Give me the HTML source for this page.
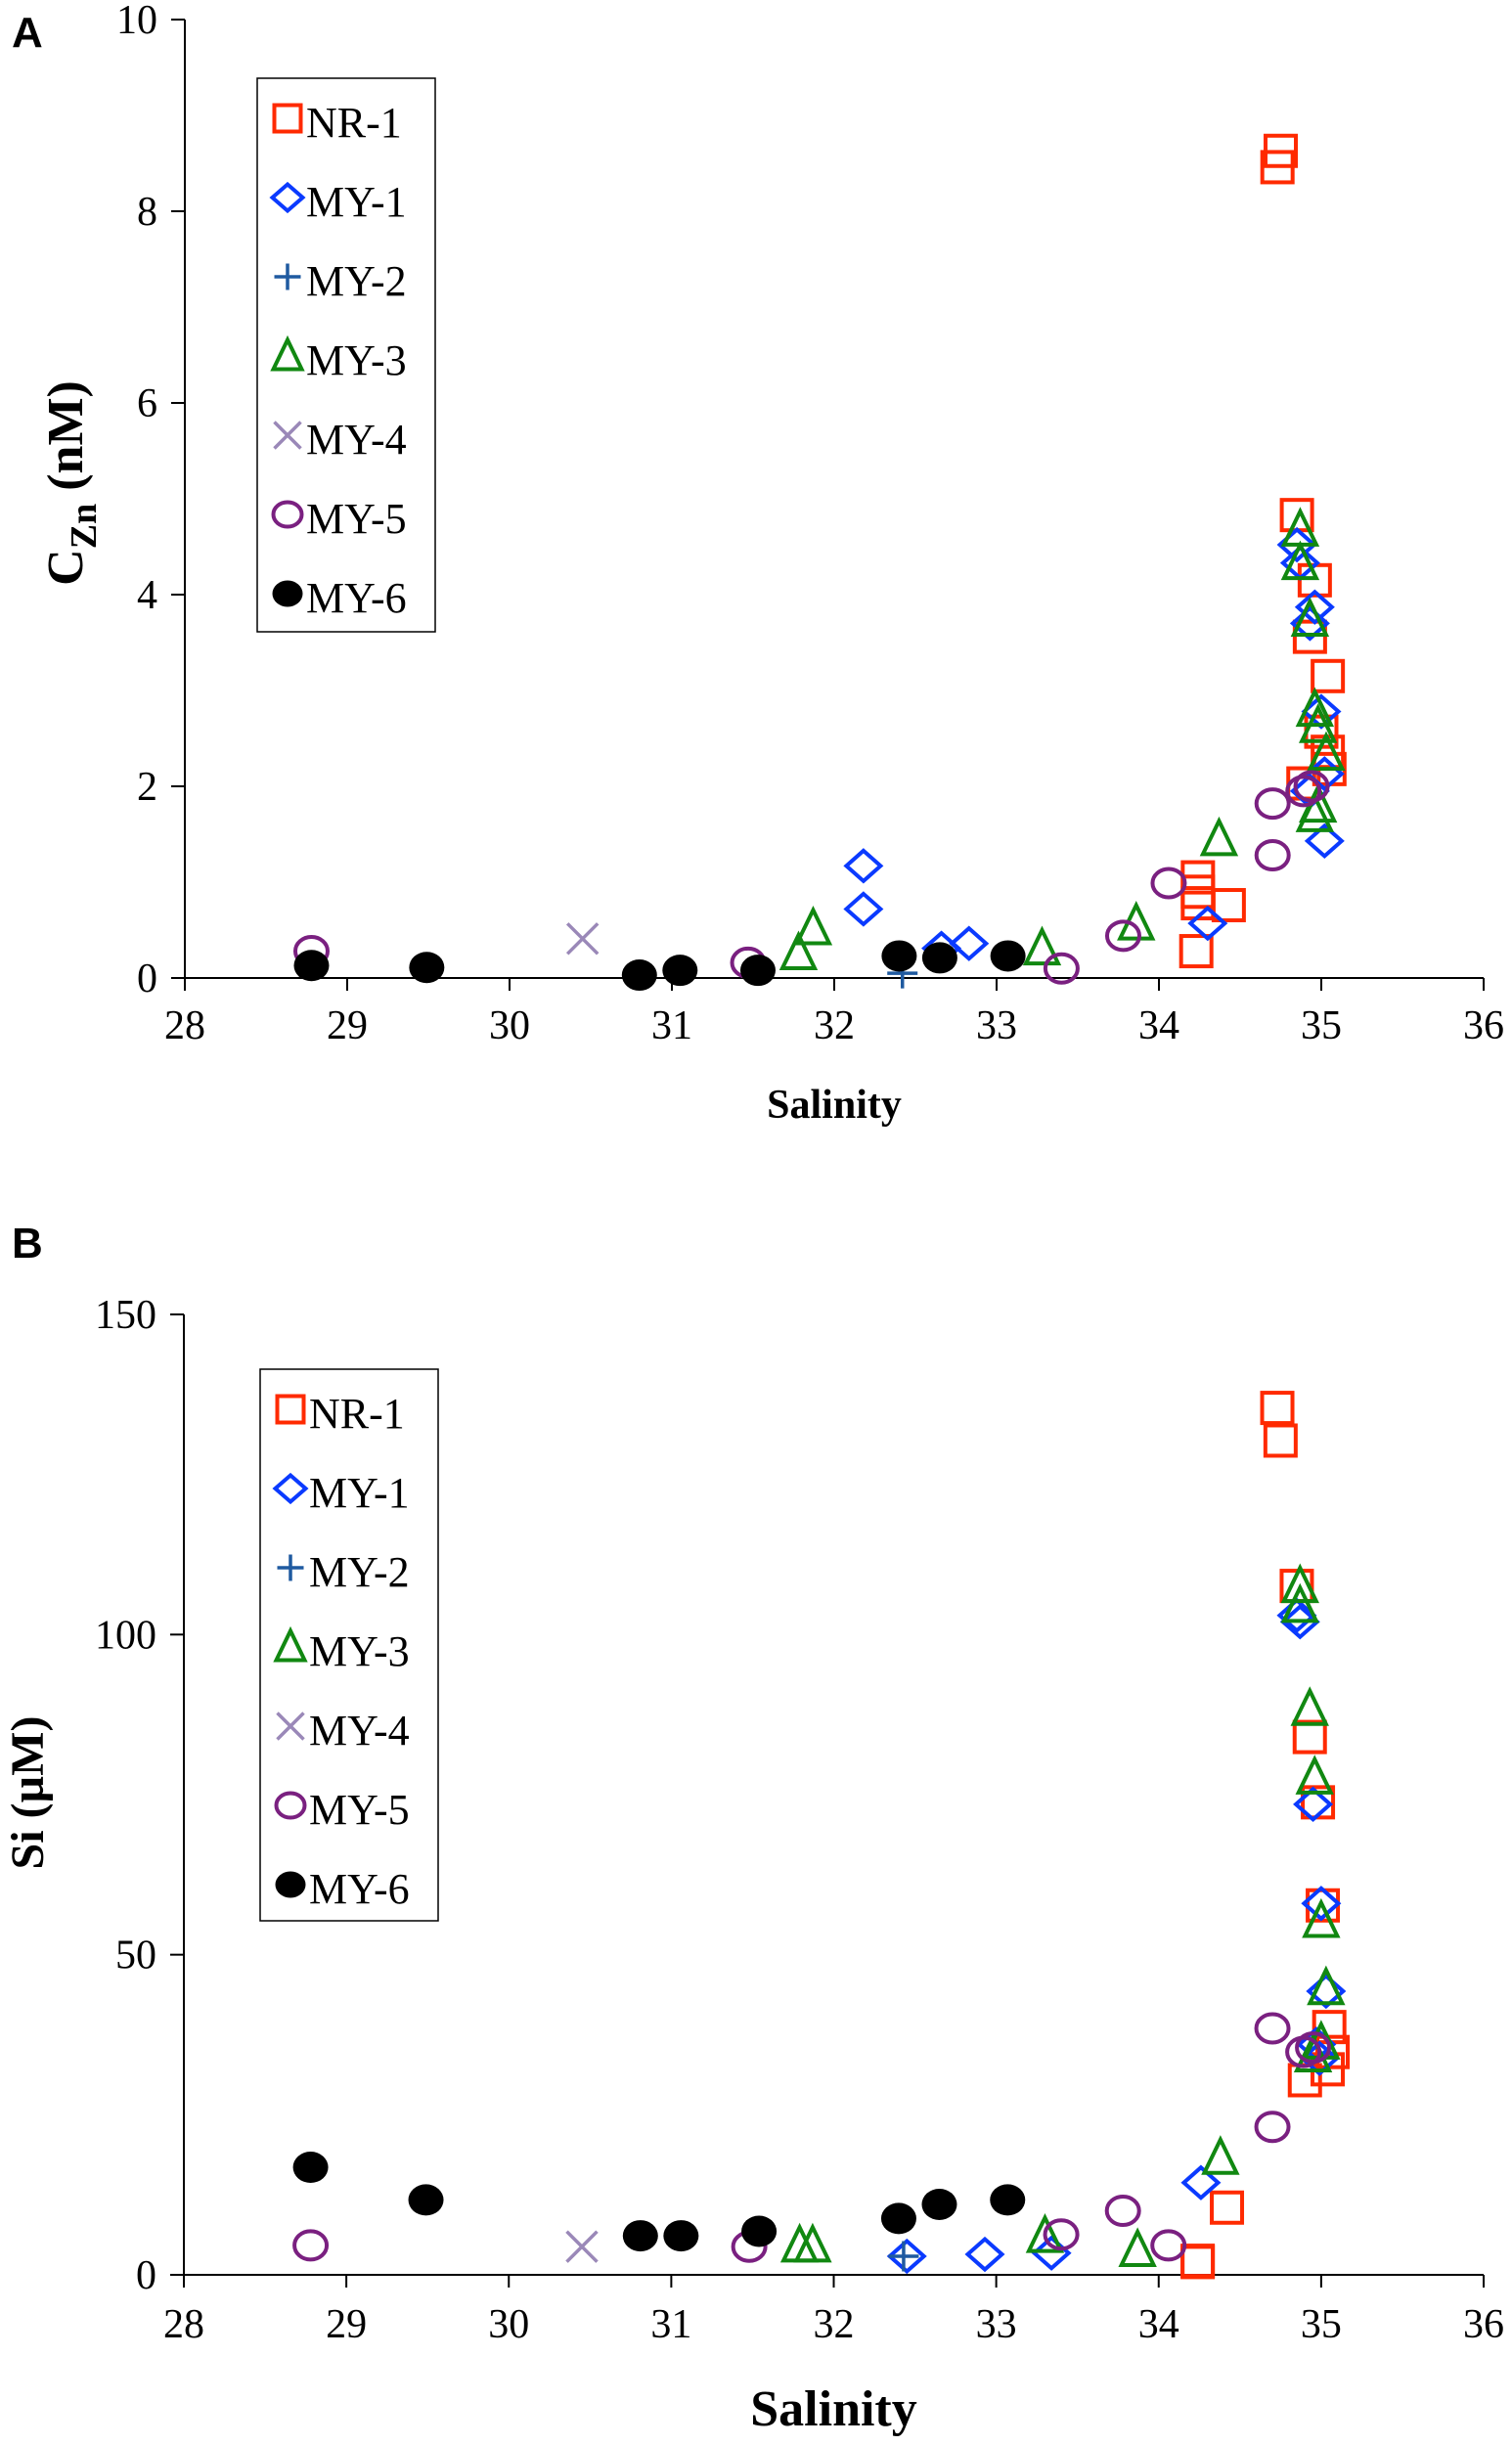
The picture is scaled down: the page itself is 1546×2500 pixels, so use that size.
<!DOCTYPE html>
<html><head><meta charset="utf-8"><style>
html,body{margin:0;padding:0;background:#fff}
svg{display:block}
text{font-family:"Liberation Serif",serif;fill:#000}
</style></head><body>
<svg id="fig" width="1546" height="2500" viewBox="0 0 1546 2500">
<g id="pA"></g>
<g id="pB"></g>
</svg>
<script>
const series = ["NR-1","MY-1","MY-2","MY-3","MY-4","MY-5","MY-6"];
const xTicks = [28,29,30,31,32,33,34,35,36];
const yTicksA = [0,2,4,6,8,10];
const yTicksB = [0,50,100,150];
// Panel A: salinity / Zn (nM)
const salA_NR1 = [34.75,34.73,34.85,34.96,34.93,35.04,35.0,35.04,35.05,34.89,34.24,34.24,34.24,34.43,34.23];
const znA_NR1  = [8.63,8.46,4.83,4.15,3.56,3.15,2.57,2.36,2.18,2.03,1.05,0.9,0.78,0.76,0.28];
const salA_MY1 = [32.18,32.18,32.66,32.83,34.3,34.85,34.87,34.96,34.93,35.0,35.02,34.93,35.02];
const znA_MY1  = [1.17,0.72,0.31,0.36,0.57,4.52,4.33,3.87,3.7,2.78,2.13,1.95,1.43];
const salA_MY2 = [32.42];
const znA_MY2  = [0.05];
const salA_MY3 = [31.78,31.87,33.28,33.86,34.37,34.87,34.87,34.93,34.96,34.98,35.03,34.98,34.96];
const znA_MY3  = [0.26,0.52,0.31,0.57,1.45,4.68,4.33,3.74,2.8,2.63,2.34,1.8,1.7];
const salA_MY4 = [30.45];
const znA_MY4  = [0.41];
const salA_MY5 = [28.78,31.47,33.4,33.78,34.06,34.7,34.7,34.89,34.94];
const znA_MY5  = [0.28,0.16,0.1,0.44,0.99,1.28,1.82,1.95,2.0];
const salA_MY6 = [28.78,29.49,30.8,31.05,31.53,32.4,32.65,33.07];
const znA_MY6  = [0.13,0.11,0.03,0.08,0.08,0.23,0.21,0.23];
// Panel B: salinity / Si (uM)
const salB_NR1 = [34.73,34.75,34.85,34.93,34.98,35.01,35.05,35.07,35.04,34.9,34.42,34.24,34.24];
const siB_NR1  = [135.4,130.3,107.6,84,73.8,57.7,38.7,34.8,32.1,30.4,10.5,2.2,2.0];
const salB_MY1 = [34.26,32.45,32.93,33.34,34.87,34.85,34.95,35.0,35.03,34.97,34.99];
const siB_MY1  = [14.4,2.9,3.2,3.4,102,103,73.5,58,44.3,36,33.8];
const salB_MY2 = [32.43];
const siB_MY2  = [2.9];
const salB_MY3 = [31.79,31.87,33.3,33.87,34.38,34.87,34.87,34.93,34.96,35.0,35.03,34.95,35.0];
const siB_MY3  = [4.6,4.6,6.1,3.9,18.3,107.6,104.5,88.4,77.7,55.3,44.8,34.3,36.3];
const salB_MY4 = [30.45];
const siB_MY4  = [4.4];
const salB_MY5 = [28.78,31.48,33.4,33.78,34.06,34.7,34.7,34.89,34.95];
const siB_MY5  = [4.6,4.4,6.3,10,4.6,23.1,38.5,34.8,35.5];
const salB_MY6 = [28.78,29.49,30.81,31.06,31.54,32.4,32.65,33.07];
const siB_MY6  = [16.8,11.7,6.1,6.1,6.8,8.8,11,11.7];

const NS="http://www.w3.org/2000/svg";
const colors={"NR-1":"#ff2a00","MY-1":"#0a3aff","MY-2":"#1f5aa0","MY-3":"#118811","MY-4":"#9a88b8","MY-5":"#7a2080","MY-6":"#000"};
function mk(tag,attrs,parent){const e=document.createElementNS(NS,tag);for(const k in attrs)e.setAttribute(k,attrs[k]);parent.appendChild(e);return e;}
function marker(p,name,cx,cy,s){
  const c=colors[name];let e;const h=s/2;
  if(name==="NR-1") e=mk("rect",{x:cx-h,y:cy-h,width:s,height:s,fill:"none",stroke:c,"stroke-width":4},p);
  else if(name==="MY-1") e=mk("polygon",{points:`${cx},${cy-h} ${cx+h+2},${cy} ${cx},${cy+h} ${cx-h-2},${cy}`,fill:"none",stroke:c,"stroke-width":4},p);
  else if(name==="MY-2") e=mk("path",{d:`M${cx-h} ${cy}H${cx+h}M${cx} ${cy-h}V${cy+h}`,stroke:c,"stroke-width":3.5,fill:"none"},p);
  else if(name==="MY-3") e=mk("polygon",{points:`${cx},${cy-h-3} ${cx+h+1},${cy+h} ${cx-h-1},${cy+h}`,fill:"none",stroke:c,"stroke-width":4},p);
  else if(name==="MY-4") e=mk("path",{d:`M${cx-h} ${cy-h}L${cx+h} ${cy+h}M${cx+h} ${cy-h}L${cx-h} ${cy+h}`,stroke:c,"stroke-width":3.5,fill:"none"},p);
  else if(name==="MY-5") e=mk("ellipse",{cx:cx,cy:cy,rx:h+1,ry:h-1,fill:"none",stroke:c,"stroke-width":4},p);
  else e=mk("ellipse",{cx:cx,cy:cy,rx:h+2,ry:h,fill:c},p);
  return e;
}
function drawPanel(g,cfg){
  const X=v=>cfg.x0+(v-28)/8*(cfg.x1-cfg.x0);
  const Y=v=>cfg.y0-(v/cfg.ymax)*(cfg.y0-cfg.y1);
  const lab=mk("text",{x:cfg.labX,y:cfg.labY,"font-size":44,"font-weight":"bold",style:"font-family:'Liberation Sans',sans-serif"},g);
  lab.textContent=cfg.label;
  
  
  const ax=mk("path",{d:`M${cfg.x0} ${cfg.y1}V${cfg.y0}H${cfg.x1}`,stroke:"#000","stroke-width":2,fill:"none"},g);
  
  
  xTicks.forEach(t=>{
    mk("line",{x1:X(t),x2:X(t),y1:cfg.y0,y2:cfg.y0+13,stroke:"#000","stroke-width":2},g);
    const tx=mk("text",{x:X(t),y:cfg.y0+cfg.xtOff,"text-anchor":"middle","font-size":cfg.fs},g);
    tx.textContent=t;
    
    
  });
  cfg.yTicks.forEach(t=>{
    mk("line",{x1:cfg.x0-14,x2:cfg.x0,y1:Y(t),y2:Y(t),stroke:"#000","stroke-width":2},g);
    const tx=mk("text",{x:cfg.x0-28,y:Y(t)+14,"text-anchor":"end","font-size":cfg.fs},g);
    tx.textContent=t;
    
    
  });
  const xt=mk("text",{x:(cfg.x0+cfg.x1)/2,y:cfg.xTitleY,"text-anchor":"middle","font-size":cfg.xTitleFs,"font-weight":"bold"},g);
  xt.textContent="Salinity";
  
  
  const yt=mk("text",{transform:`translate(${cfg.yTitleX},${cfg.yTitleY}) rotate(-90)`,"text-anchor":"middle","font-size":cfg.yTitleFs,"font-weight":"bold"},g);
  yt.innerHTML=cfg.yTitle;
  
  
  cfg.data.forEach((d,i)=>{
    const sg=mk("g",{},g);
    
    
    d[0].forEach((s,j)=>{
      const m=marker(sg,series[i],X(s),Y(d[1][j]),series[i]==="MY-6"?32:31);
      
      
    });
  });
  const lg=mk("g",{},g);
  
  
  mk("rect",{x:cfg.lx,y:cfg.ly,width:182,height:cfg.lh,fill:"#fff",stroke:"#000","stroke-width":1.5},lg);
  series.forEach((s,i)=>{
    const ey=cfg.ly+43+i*81;
    const eg=mk("g",{},lg);
    
    
    marker(eg,s,cfg.lx+31,ey-2,27);
    const t=mk("text",{x:cfg.lx+50,y:ey+17,"font-size":cfg.lfs},eg);
    t.textContent=s;
  });
}
drawPanel(document.getElementById('pA'),{label:"A",labX:12,labY:48,x0:189,x1:1517,y0:1000,y1:20,ymax:10,yTicks:yTicksA,fs:42,xtOff:62,
  xTitleY:1143,xTitleFs:42,yTitleX:84,yTitleY:494,yTitleFs:52,
  yTitle:'C<tspan font-size="38" dy="14">Zn</tspan><tspan dy="-14"> (nM)</tspan>',
  lx:263,ly:80,lh:566,lfs:44,
  data:[[salA_NR1,znA_NR1],[salA_MY1,znA_MY1],[salA_MY2,znA_MY2],[salA_MY3,znA_MY3],[salA_MY4,znA_MY4],[salA_MY5,znA_MY5],[salA_MY6,znA_MY6]]});
drawPanel(document.getElementById('pB'),{label:"B",labX:12,labY:1286,x0:188,x1:1517,y0:2326,y1:1344,ymax:150,yTicks:yTicksB,fs:42,xtOff:64,
  xTitleY:2480,xTitleFs:52,yTitleX:44,yTitleY:1833,yTitleFs:48,
  yTitle:'Si (µM)',
  lx:266,ly:1400,lh:564,lfs:44,
  data:[[salB_NR1,siB_NR1],[salB_MY1,siB_MY1],[salB_MY2,siB_MY2],[salB_MY3,siB_MY3],[salB_MY4,siB_MY4],[salB_MY5,siB_MY5],[salB_MY6,siB_MY6]]});
</script>
</body></html>
